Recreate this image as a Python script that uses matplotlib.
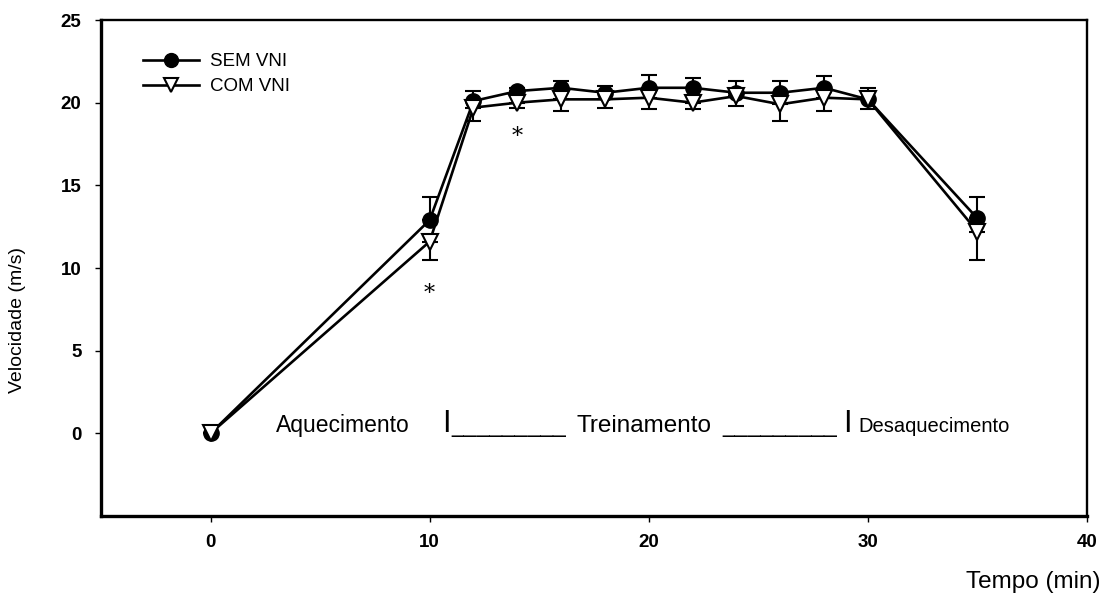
import matplotlib
matplotlib.use("Agg")
import matplotlib.pyplot as plt
from matplotlib.lines import Line2D

# Data
tempo = [0, 10, 12, 14, 16, 18, 20, 22, 24, 26, 28, 30, 35]
sem_vni = [0, 12.9, 20.1, 20.7, 20.9, 20.6, 20.9, 20.9, 20.6, 20.6, 20.9, 20.2, 13.0]
sem_err_up = [0, 1.4, 0.6, 0.2, 0.4, 0.4, 0.8, 0.6, 0.7, 0.7, 0.7, 0.7, 1.3]
com_vni = [0, 11.6, 19.7, 20.0, 20.2, 20.2, 20.3, 20.0, 20.4, 19.9, 20.3, 20.2, 12.2]
com_err_down = [0, 1.1, 0.8, 0.3, 0.7, 0.5, 0.7, 0.4, 0.6, 1.0, 0.8, 0.6, 1.7]
xticks = [0, 10, 20, 30, 40]
yticks = [0, 5, 10, 15, 20, 25]
signif_x = [10, 14]
signif_y = [8.4, 17.9]

plt.rcParams['font.family'] = ['Liberation Sans', 'DejaVu Sans']

W, H = 1104, 601
fig = plt.figure(figsize=(W / 100, H / 100), dpi=100)
ax = fig.add_axes([101 / W, 1 - 516 / H, (1087 - 101) / W, (516 - 20) / H])

zeros = [0] * len(tempo)
ax.errorbar(tempo, sem_vni, yerr=[zeros, sem_err_up], fmt='-o', color='black',
            lw=1.9, ms=11, mfc='black', mec='black', ecolor='black',
            elinewidth=1.5, capsize=6, capthick=1.5, zorder=3)
ax.errorbar(tempo, com_vni, yerr=[com_err_down, zeros], fmt='-v', color='black',
            lw=1.9, ms=11, mfc='white', mec='black', mew=1.5, ecolor='black',
            elinewidth=1.5, capsize=6, capthick=1.5, zorder=4)

ax.set_xlim(-5, 40)
ax.set_ylim(-5, 25)
ax.set_xticks(xticks)
ax.set_yticks(yticks)
ax.tick_params(direction='out', length=4, width=1, labelsize=13.5, top=False, right=False)
for lab in ax.get_xticklabels() + ax.get_yticklabels():
    lab.set_fontweight('bold')
ax.tick_params(axis='x', pad=9)
ax.tick_params(axis='y', pad=10)

for s in ['left', 'bottom']:
    ax.spines[s].set_linewidth(2.4)
for s in ['top', 'right']:
    ax.spines[s].set_linewidth(1.7)

fig.text(18 / W, 1 - 320 / H, 'Velocidade (m/s)', fontsize=14, rotation=90,
         ha='center', va='center')
fig.text(1100 / W, 1 - 582 / H, 'Tempo (min)', fontsize=17.5, ha='right', va='center')

handles = [
    Line2D([], [], color='black', lw=1.9, marker='o', ms=10, mfc='black', mec='black'),
    Line2D([], [], color='black', lw=1.9, marker='v', ms=10, mfc='white', mec='black', mew=1.5),
]
ax.legend(handles, ['SEM VNI', 'COM VNI'], loc='upper left',
          bbox_to_anchor=(143 / W, 1 - 53 / H), bbox_transform=fig.transFigure,
          frameon=False, fontsize=13.5, handlelength=3.0, handletextpad=0.6,
          labelspacing=0.42, borderpad=0, borderaxespad=0)

# Asterisks
for sx, sy in zip(signif_x, signif_y):
    ax.text(sx, sy, '*', fontsize=16, ha='center', va='center', family=['DejaVu Serif'])

# Phase annotation
ax.text(3.0, 0.1, 'Aquecimento', fontsize=16.5, va='baseline', ha='left')
ax.text(10.55, 0.1, 'I', fontsize=22, va='baseline', ha='left')
ax.text(11.0, 0.1, '_________', fontsize=16.5, va='baseline', ha='left')
ax.text(19.8, 0.1, 'Treinamento', fontsize=17.5, va='baseline', ha='center')
ax.text(23.37, 0.1, '_________', fontsize=16.5, va='baseline', ha='left')
ax.text(28.85, 0.1, 'I', fontsize=22, va='baseline', ha='left')
ax.text(29.57, 0.1, 'Desaquecimento', fontsize=14.5, va='baseline', ha='left')

fig.savefig('out.png', dpi=100)
